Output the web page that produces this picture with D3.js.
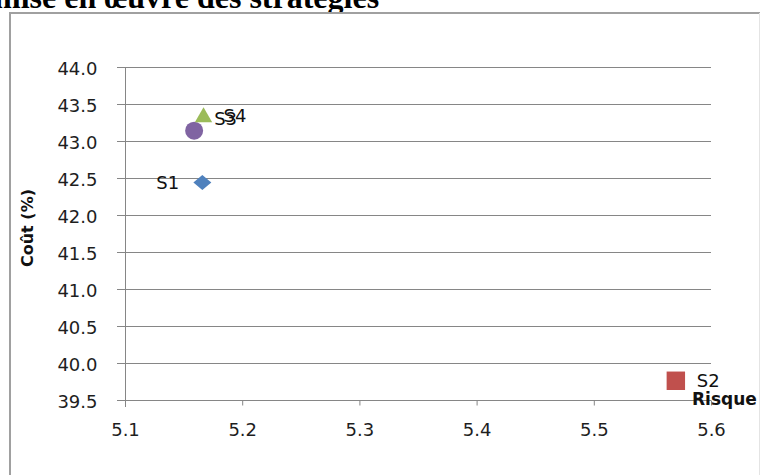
<!DOCTYPE html>
<html>
<head>
<meta charset="utf-8">
<script src="https://cdn.jsdelivr.net/npm/d3@7"></script>
<style>
	body { margin: 0; background: #fff; }
	svg { display: block; }
	.tick text { font-family: "DejaVu Sans", sans-serif; font-size: 18px; fill: #1e1e1e; }
</style>
</head>
<body>
<svg id="chart" width="761" height="475"></svg>
<script>
"use strict";

// strategies, risk (x) and cost (y)
const names  = ["S1", "S2", "S3", "S4"];
const risque = [5.166, 5.570, 5.159, 5.167];
const cout   = [42.44, 39.76, 43.14, 43.32];
const symbols = ["diamond", "square", "circle", "triangle"];
const colors  = ["#4f81bd", "#c0504d", "#8064a2", "#9bbb59"];

const xTicks = [5.1, 5.2, 5.3, 5.4, 5.5, 5.6];
const yTicks = [39.5, 40.0, 40.5, 41.0, 41.5, 42.0, 42.5, 43.0, 43.5, 44.0];

const svg = d3.select("#chart");

// plot area bounds
const pLeft = 125, pRight = 711, pTop = 67, pBottom = 400;

const x = d3.scaleLinear().domain([5.1, 5.6]).range([pLeft, pRight]);
const y = d3.scaleLinear().domain([39.5, 44.0]).range([pBottom, pTop]);

// cut-off caption from the document above the chart
svg.append("text")
	.attr("x", -6)
	.attr("y", 8)
	.style("font-family", "'Liberation Serif', 'Times New Roman', serif")
	.style("font-weight", "bold")
	.style("font-size", "32px")
	.text("mise en œuvre des stratégies");

// chart frame
svg.append("rect")
	.attr("x", 10).attr("y", 13)
	.attr("width", 750).attr("height", 470)
	.attr("fill", "#fff");
svg.append("path")
	.attr("d", "M10,476V13H760")
	.attr("fill", "none")
	.attr("stroke", "#a0a0a0")
	.attr("stroke-width", 2);
svg.append("path")
	.attr("d", "M759.5,13V476")
	.attr("stroke", "#e4e4e4");

// gridlines
svg.append("g")
	.selectAll("line")
	.data(yTicks)
	.join("line")
	.attr("x1", pLeft - 8).attr("x2", pRight)
	.attr("y1", d => Math.round(y(d)) + 0.5)
	.attr("y2", d => Math.round(y(d)) + 0.5)
	.attr("stroke", "#868686");

const yaxis = d3.axisLeft(y)
	.tickValues(yTicks)
	.tickFormat(d3.format(".1f"))
	.tickSize(0)
	.tickPadding(28);
svg.append("g")
	.attr("transform", `translate(${pLeft + 0.5},0)`)
	.call(yaxis)
	.call(g => g.select(".domain").attr("stroke", "#868686").attr("d", `M0,${pTop}V${pBottom + 7}`))
	.call(g => g.selectAll(".tick text").attr("dy", "0.4em"));

const xaxis = d3.axisBottom(x)
	.tickValues(xTicks)
	.tickFormat(d3.format(".1f"))
	.tickSize(5)
	.tickPadding(18);
svg.append("g")
	.attr("transform", `translate(0,${pBottom + 0.5})`)
	.call(xaxis)
	.call(g => g.select(".domain").remove())
	.call(g => g.selectAll(".tick line").attr("stroke", "#868686"));

// axis titles
svg.append("text")
	.attr("transform", "translate(33,228) rotate(-90)")
	.attr("text-anchor", "middle")
	.style("font-family", "'DejaVu Sans', sans-serif")
	.style("font-weight", "bold")
	.style("font-size", "16px")
	.style("fill", "#111")
	.text("Coût (%)");

svg.append("text")
	.attr("x", 692)
	.attr("y", 405)
	.style("font-family", "'DejaVu Sans', sans-serif")
	.style("font-weight", "bold")
	.style("font-size", "17px")
	.style("fill", "#111")
	.text("Risque");

// markers
const symType = {
	diamond: d3.symbolSquare,
	square: d3.symbolSquare,
	circle: d3.symbolCircle,
	triangle: d3.symbolTriangle
};
const symSize = { diamond: 112, square: 340, circle: 254, triangle: 130 };

const pts = names.map((n, i) => ({ name: n, x: risque[i], y: cout[i], sym: symbols[i], color: colors[i] }));

svg.append("g")
	.selectAll("path")
	.data(pts)
	.join("path")
	.attr("transform", d => d.sym == "diamond"
		? `translate(${x(d.x)},${y(d.y)}) scale(1.2,1) rotate(45)`
		: `translate(${x(d.x)},${y(d.y)})`)
	.attr("d", d => d3.symbol(symType[d.sym], symSize[d.sym])())
	.attr("fill", d => d.color);

// data labels (nudged by hand as in the original)
const labelOffset = {
	S1: [-46, 7],
	S2: [21, 6.5],
	S3: [20, -6],
	S4: [20, 4.5]
};
svg.append("g")
	.selectAll("text")
	.data(pts)
	.join("text")
	.attr("x", d => x(d.x) + labelOffset[d.name][0])
	.attr("y", d => y(d.y) + labelOffset[d.name][1])
	.style("font-family", "'DejaVu Sans', sans-serif")
	.style("font-size", "18px")
	.style("fill", "#111")
	.text(d => d.name);
</script>
</body>
</html>
